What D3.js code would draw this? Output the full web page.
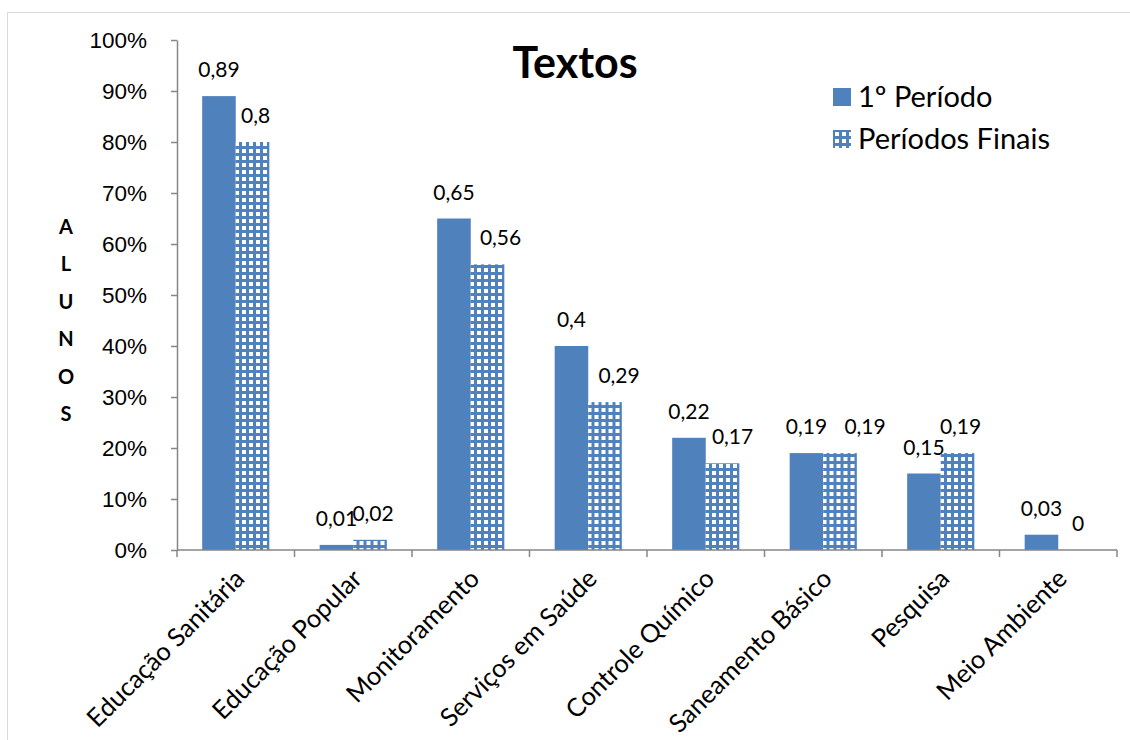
<!DOCTYPE html>
<html>
<head>
<meta charset="utf-8">
<script src="https://cdn.jsdelivr.net/npm/d3@7"></script>
<style>
  body { margin: 0; background: #fff; }
  svg { font-family: Lato, "Open Sans", sans-serif; }
</style>
</head>
<body>
<svg id="grafico" width="1130" height="740"></svg>
<script>
// Datos del gráfico
const categorias = ["Educação Sanitária", "Educação Popular", "Monitoramento", "Serviços em Saúde",
    "Controle Químico", "Saneamento Básico", "Pesquisa", "Meio Ambiente"];
const primeiroPeriodo = [0.89, 0.01, 0.65, 0.40, 0.22, 0.19, 0.15, 0.03];
const periodosFinais = [0.80, 0.02, 0.56, 0.29, 0.17, 0.19, 0.19, 0];
const series = ["1º Período", "Períodos Finais"];
const ticksY = [0, 0.1, 0.2, 0.3, 0.4, 0.5, 0.6, 0.7, 0.8, 0.9, 1];

const azul = "#4f81bd";
const ejeColor = "#868686";

// Ajuste horizontal de las etiquetas de la segunda serie (movidas a mano en el original)
const ajusteEtiqueta = {
    "Monitoramento": 13, "Serviços em Saúde": 14, "Controle Químico": 10, "Saneamento Básico": 25
};

const svg = d3.select("#grafico");
const margin = { top: 40, right: 13, bottom: 190, left: 177 };
const width = 1130, height = 740;

// Patrón de cuadros para los periodos finales
const defs = svg.append("defs");
const pat = defs.append("pattern")
    .attr("id", "cuadros")
    .attr("patternUnits", "userSpaceOnUse")
    .attr("width", 7).attr("height", 7);
pat.append("rect").attr("width", 7).attr("height", 7).attr("fill", azul);
pat.append("rect").attr("x", 2).attr("y", 2).attr("width", 4).attr("height", 4).attr("fill", "#ffffff");

// Marco exterior
svg.append("path")
    .attr("d", "M7.5,740 L7.5,12.5 L1130,12.5")
    .attr("fill", "none")
    .attr("stroke", "#d9d9d9")
    .attr("stroke-width", 1);

const x = d3.scaleBand()
    .domain(categorias)
    .range([margin.left, width - margin.right])
    .paddingInner(0).paddingOuter(0);

const x1 = d3.scaleBand()
    .domain(series)
    .range([0, x.bandwidth()])
    .paddingInner(0).paddingOuter(0.75);

const y = d3.scaleLinear()
    .domain([0, 1])
    .range([height - margin.bottom, margin.top]);

const y0 = y(0);

// Barras
const datos = categorias.map((c, i) => ({ cat: c, valores: [primeiroPeriodo[i], periodosFinais[i]] }));

const grupos = svg.append("g").selectAll("g")
    .data(datos)
    .join("g")
    .attr("transform", d => `translate(${x(d.cat)},0)`);

grupos.selectAll("rect")
    .data(d => d.valores.map((v, j) => ({ serie: series[j], v })))
    .join("rect")
    .attr("x", d => x1(d.serie))
    .attr("y", d => y(d.v))
    .attr("width", x1.bandwidth())
    .attr("height", d => y0 - y(d.v))
    .attr("fill", d => d.serie === series[0] ? azul : "url(#cuadros)");

// Etiquetas de valores
grupos.selectAll("text")
    .data(d => d.valores.map((v, j) => ({ serie: series[j], v, cat: d.cat, j })))
    .join("text")
    .attr("x", d => x1(d.serie) + x1.bandwidth() / 2 + (d.j === 0 ? 0 : (ajusteEtiqueta[d.cat] || 3)))
    .attr("y", d => y(d.v) - 19)
    .attr("text-anchor", "middle")
    .style("font-size", "21px")
    .attr("fill", "#000")
    .text(d => String(d.v).replace(".", ","));

// Eje Y
const ejeY = svg.append("g")
    .attr("transform", `translate(${margin.left},0)`)
    .call(d3.axisLeft(y).tickValues(ticksY).tickSize(6).tickSizeOuter(0).tickPadding(24)
        .tickFormat(d => Math.round(d * 100) + "%"));
ejeY.select(".domain").attr("stroke", ejeColor).attr("stroke-width", 1.5);
ejeY.selectAll(".tick line").attr("stroke", ejeColor).attr("stroke-width", 1.5);
ejeY.selectAll(".tick text").style("font-size", "22.5px").attr("fill", "#000").attr("dy", "0.35em");

// Eje X
const ejeX = svg.append("g")
    .attr("transform", `translate(0,${y0})`);
ejeX.append("line")
    .attr("x1", margin.left).attr("x2", width - margin.right)
    .attr("stroke", ejeColor).attr("stroke-width", 1.5);
ejeX.selectAll("line.tk")
    .data(categorias.concat(["fin"]))
    .join("line")
    .attr("class", "tk")
    .attr("x1", (d, i) => margin.left + i * x.bandwidth())
    .attr("x2", (d, i) => margin.left + i * x.bandwidth())
    .attr("y1", 0).attr("y2", 7)
    .attr("stroke", ejeColor).attr("stroke-width", 1.5);
ejeX.selectAll("text")
    .data(categorias)
    .join("text")
    .attr("transform", d => `translate(${x(d) + x.bandwidth() / 2 + 4},24) rotate(-45)`)
    .attr("text-anchor", "end")
    .attr("dy", "0.35em")
    .style("font-size", "25.5px")
    .attr("fill", "#000")
    .text(d => d);

// Título del eje Y (letras apiladas)
const letras = "ALUNOS".split("");
svg.append("g").selectAll("text")
    .data(letras)
    .join("text")
    .attr("x", 66)
    .attr("y", (d, i) => 234 + i * 37.4)
    .attr("text-anchor", "middle")
    .style("font-size", "20px")
    .style("font-weight", "bold")
    .text(d => d);

// Título
svg.append("text")
    .attr("x", 575).attr("y", 78)
    .attr("text-anchor", "middle")
    .style("font-size", "43px")
    .style("font-weight", "bold")
    .text("Textos");

// Leyenda
const leyenda = svg.append("g").attr("transform", "translate(833,88)");
series.forEach((s, i) => {
    const fila = leyenda.append("g").attr("transform", `translate(0,${i * 42})`);
    fila.append("rect")
        .attr("width", 18).attr("height", 18)
        .attr("fill", i === 0 ? azul : "url(#cuadros)");
    fila.append("text")
        .attr("x", 25).attr("y", 9)
        .attr("dy", "0.35em")
        .style("font-size", "29px")
        .text(s);
});
</script>
</body>
</html>
